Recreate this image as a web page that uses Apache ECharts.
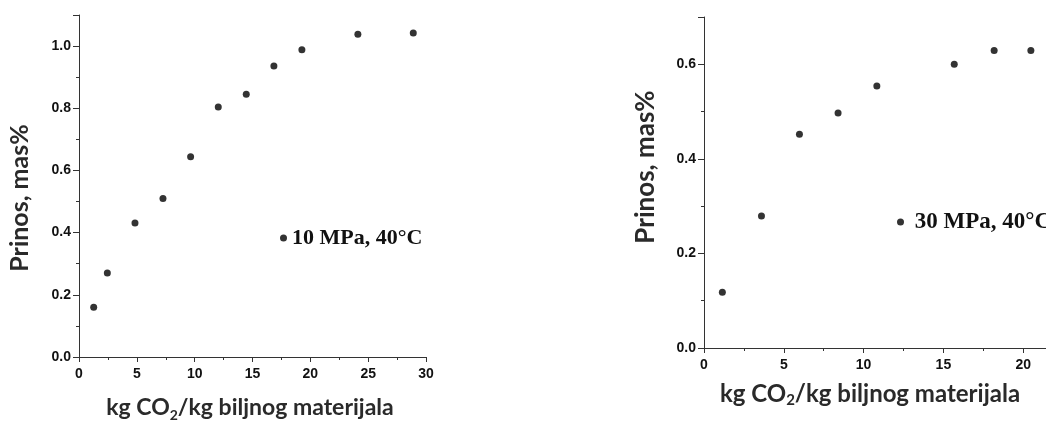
<!DOCTYPE html>
<html>
<head>
<meta charset="utf-8">
<script src="https://cdn.jsdelivr.net/npm/echarts@6/dist/echarts.min.js"></script>
<style>
  html, body { margin: 0; padding: 0; background: #fff; }
  #main { width: 1046px; height: 421px; }
</style>
</head>
<body>
<div id="main"></div>
<script>
// podaci ocitani sa slike
var nameLeft = '10 MPa, 40°C';
var xLeft = [1.27, 2.45, 4.84, 7.26, 9.65, 12.04, 14.46, 16.85, 19.27, 24.11, 28.9];
var yLeft = [0.160, 0.270, 0.431, 0.510, 0.644, 0.804, 0.845, 0.936, 0.988, 1.038, 1.042];

var nameRight = '30 MPa, 40°C';
var xRight = [1.15, 3.6, 5.98, 8.4, 10.83, 15.68, 18.18, 20.48];
var yRight = [0.118, 0.279, 0.452, 0.497, 0.554, 0.600, 0.629, 0.629];

var xTitle = ['kg CO', '2', '/kg biljnog materijala'];
var yTitle = 'Prinos, mas%';

function pairs(xs, ys) {
  return xs.map(function (x, i) { return [x, ys[i]]; });
}

var tickFont = { fontFamily: 'Liberation Sans', fontWeight: 'bold', fontSize: 14, color: '#111' };
var lineStyle = { color: '#333', width: 1 };

function yLabel(v) {
  return Math.round(v * 10) % 2 === 0 ? v.toFixed(1) : '';
}

function xAxisCfg(idx, max) {
  return {
    type: 'value', gridIndex: idx, min: 0, max: max, interval: 5,
    splitLine: { show: false },
    axisLine: { onZero: false, lineStyle: lineStyle },
    axisTick: { show: true, length: 5, lineStyle: lineStyle },
    minorTick: { show: true, splitNumber: 2, length: 3, lineStyle: lineStyle },
    axisLabel: Object.assign({ margin: 10 }, tickFont)
  };
}

function yAxisCfg(idx, max) {
  return {
    type: 'value', gridIndex: idx, min: 0, max: max, interval: 0.2,
    splitLine: { show: false },
    axisLine: { onZero: false, lineStyle: lineStyle },
    axisTick: { show: true, length: 6, lineStyle: lineStyle },
    minorTick: { show: true, splitNumber: 2, length: 3, lineStyle: lineStyle },
    axisLabel: Object.assign({ margin: 8, formatter: yLabel }, tickFont)
  };
}

function richX(size) {
  return {
    a: { fontFamily: 'Lato', fontWeight: 'bold', fontSize: size, fill: '#2a2a2a', lineHeight: 28 },
    s: { fontFamily: 'Lato', fontWeight: 'bold', fontSize: Math.round(size * 0.62), fill: '#2a2a2a', verticalAlign: 'bottom', lineHeight: 22 }
  };
}
function xName(cx, cy, size) {
  return {
    type: 'text', x: cx, y: cy,
    style: {
      text: '{a|' + xTitle[0] + '}{s|' + xTitle[1] + '}{a|' + xTitle[2] + '}',
      rich: richX(size), align: 'center', verticalAlign: 'middle'
    }
  };
}
function yName(cx, cy, size) {
  return {
    type: 'text', x: cx, y: cy, rotation: Math.PI / 2,
    style: {
      text: yTitle, font: 'bold ' + size + 'px Lato', fill: '#2a2a2a',
      align: 'center', verticalAlign: 'middle'
    }
  };
}

function legendText(size) {
  return { fontFamily: 'Liberation Serif', fontWeight: 'bold', fontSize: size, color: '#111', lineHeight: 24 };
}

var chart = echarts.init(document.getElementById('main'));
chart.setOption({
  backgroundColor: '#fff',
  animation: false,
  grid: [
    { left: 79, top: 15, width: 347, height: 342, outerBoundsMode: 'none' },
    { left: 704, top: 17, width: 399, height: 331, outerBoundsMode: 'none' }
  ],
  xAxis: [xAxisCfg(0, 30), xAxisCfg(1, 25)],
  yAxis: [yAxisCfg(0, 1.1), yAxisCfg(1, 0.7)],
  legend: [
    {
      data: [nameLeft], left: 280, top: 226, icon: 'circle',
      itemWidth: 7, itemHeight: 7, textStyle: legendText(22), padding: 0
    },
    {
      data: [nameRight], left: 897, top: 210, icon: 'circle',
      itemWidth: 7, itemHeight: 7, textStyle: legendText(23), padding: 0,
      formatter: ' {name}'
    }
  ],
  graphic: [
    xName(250, 408, 23),
    xName(870, 394, 24),
    yName(20, 198, 25),
    yName(646, 167, 26)
  ],
  series: [
    {
      name: nameLeft, type: 'scatter', xAxisIndex: 0, yAxisIndex: 0,
      symbol: 'circle', symbolSize: 7, itemStyle: { color: '#000' },
      data: pairs(xLeft, yLeft)
    },
    {
      name: nameRight, type: 'scatter', xAxisIndex: 1, yAxisIndex: 1,
      symbol: 'circle', symbolSize: 7, itemStyle: { color: '#000' },
      data: pairs(xRight, yRight)
    }
  ]
});
</script>
</body>
</html>
